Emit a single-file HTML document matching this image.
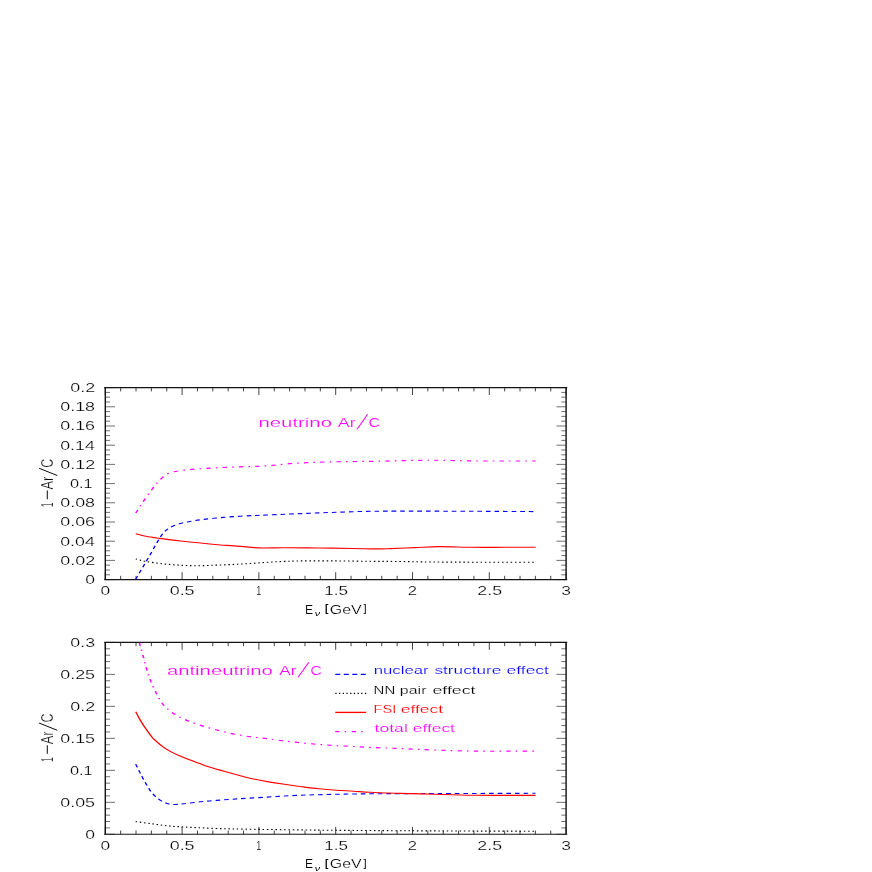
<!DOCTYPE html>
<html><head><meta charset="utf-8"><title>1-Ar/C</title>
<style>
html,body{margin:0;padding:0;background:#fff;}
body{width:872px;height:872px;overflow:hidden;font-family:"Liberation Sans",sans-serif;}
svg{display:block;}
</style></head><body>
<svg width="872" height="872" viewBox="0 0 872 872" font-family="'Liberation Sans', sans-serif" shape-rendering="auto">
<rect width="872" height="872" fill="#fff"/>
<g opacity="0.999">
<defs><clipPath id="c2"><rect x="105.3" y="642.4" width="460.8" height="191.9"/></clipPath></defs>
<path d="M105.3 579.6v-7.4M105.3 387.6v7.4M120.66 579.6v-3.8M120.66 387.6v3.8M136.02 579.6v-3.8M136.02 387.6v3.8M151.38 579.6v-3.8M151.38 387.6v3.8M166.74 579.6v-3.8M166.74 387.6v3.8M182.1 579.6v-7.4M182.1 387.6v7.4M197.46 579.6v-3.8M197.46 387.6v3.8M212.82 579.6v-3.8M212.82 387.6v3.8M228.18 579.6v-3.8M228.18 387.6v3.8M243.54 579.6v-3.8M243.54 387.6v3.8M258.9 579.6v-7.4M258.9 387.6v7.4M274.26 579.6v-3.8M274.26 387.6v3.8M289.62 579.6v-3.8M289.62 387.6v3.8M304.98 579.6v-3.8M304.98 387.6v3.8M320.34 579.6v-3.8M320.34 387.6v3.8M335.7 579.6v-7.4M335.7 387.6v7.4M351.06 579.6v-3.8M351.06 387.6v3.8M366.42 579.6v-3.8M366.42 387.6v3.8M381.78 579.6v-3.8M381.78 387.6v3.8M397.14 579.6v-3.8M397.14 387.6v3.8M412.5 579.6v-7.4M412.5 387.6v7.4M427.86 579.6v-3.8M427.86 387.6v3.8M443.22 579.6v-3.8M443.22 387.6v3.8M458.58 579.6v-3.8M458.58 387.6v3.8M473.94 579.6v-3.8M473.94 387.6v3.8M489.3 579.6v-7.4M489.3 387.6v7.4M504.66 579.6v-3.8M504.66 387.6v3.8M520.02 579.6v-3.8M520.02 387.6v3.8M535.38 579.6v-3.8M535.38 387.6v3.8M550.74 579.6v-3.8M550.74 387.6v3.8M566.1 579.6v-7.4M566.1 387.6v7.4" stroke="#222" stroke-width="0.85" fill="none"/>
<path d="M105.3 579.6h9.7M566.1 579.6h-9.7M105.3 574.8h4.8M566.1 574.8h-4.8M105.3 570h4.8M566.1 570h-4.8M105.3 565.2h4.8M566.1 565.2h-4.8M105.3 560.4h9.7M566.1 560.4h-9.7M105.3 555.6h4.8M566.1 555.6h-4.8M105.3 550.8h4.8M566.1 550.8h-4.8M105.3 546h4.8M566.1 546h-4.8M105.3 541.2h9.7M566.1 541.2h-9.7M105.3 536.4h4.8M566.1 536.4h-4.8M105.3 531.6h4.8M566.1 531.6h-4.8M105.3 526.8h4.8M566.1 526.8h-4.8M105.3 522h9.7M566.1 522h-9.7M105.3 517.2h4.8M566.1 517.2h-4.8M105.3 512.4h4.8M566.1 512.4h-4.8M105.3 507.6h4.8M566.1 507.6h-4.8M105.3 502.8h9.7M566.1 502.8h-9.7M105.3 498h4.8M566.1 498h-4.8M105.3 493.2h4.8M566.1 493.2h-4.8M105.3 488.4h4.8M566.1 488.4h-4.8M105.3 483.6h9.7M566.1 483.6h-9.7M105.3 478.8h4.8M566.1 478.8h-4.8M105.3 474h4.8M566.1 474h-4.8M105.3 469.2h4.8M566.1 469.2h-4.8M105.3 464.4h9.7M566.1 464.4h-9.7M105.3 459.6h4.8M566.1 459.6h-4.8M105.3 454.8h4.8M566.1 454.8h-4.8M105.3 450h4.8M566.1 450h-4.8M105.3 445.2h9.7M566.1 445.2h-9.7M105.3 440.4h4.8M566.1 440.4h-4.8M105.3 435.6h4.8M566.1 435.6h-4.8M105.3 430.8h4.8M566.1 430.8h-4.8M105.3 426h9.7M566.1 426h-9.7M105.3 421.2h4.8M566.1 421.2h-4.8M105.3 416.4h4.8M566.1 416.4h-4.8M105.3 411.6h4.8M566.1 411.6h-4.8M105.3 406.8h9.7M566.1 406.8h-9.7M105.3 402h4.8M566.1 402h-4.8M105.3 397.2h4.8M566.1 397.2h-4.8M105.3 392.4h4.8M566.1 392.4h-4.8M105.3 387.6h9.7M566.1 387.6h-9.7" stroke="#222" stroke-width="0.65" fill="none"/>
<path d="M104.58 387.6H566.83M104.58 579.6H566.83" stroke="#141414" stroke-width="1.1" stroke-linecap="round" fill="none"/>
<path d="M105.3 387.6V579.6M566.1 387.6V579.6" stroke="#141414" stroke-width="1.42" fill="none"/>
<text transform="translate(85.21 584) scale(1.4286 1)" font-size="12.3" fill="#000" stroke="#fff" stroke-width="0.2" paint-order="fill stroke">0</text>
<text transform="translate(60.2 564.8) scale(1.4623 1)" font-size="12.3" fill="#000" stroke="#fff" stroke-width="0.2" paint-order="fill stroke">0.02</text>
<text transform="translate(60.21 545.6) scale(1.4460 1)" font-size="12.3" fill="#000" stroke="#fff" stroke-width="0.2" paint-order="fill stroke">0.04</text>
<text transform="translate(60.2 526.4) scale(1.4573 1)" font-size="12.3" fill="#000" stroke="#fff" stroke-width="0.2" paint-order="fill stroke">0.06</text>
<text transform="translate(60.2 507.2) scale(1.4570 1)" font-size="12.3" fill="#000" stroke="#fff" stroke-width="0.2" paint-order="fill stroke">0.08</text>
<text transform="translate(69.96 488) scale(1.3298 1)" font-size="12.3" fill="#000" stroke="#fff" stroke-width="0.2" paint-order="fill stroke">0.1</text>
<text transform="translate(60.2 468.8) scale(1.4623 1)" font-size="12.3" fill="#000" stroke="#fff" stroke-width="0.2" paint-order="fill stroke">0.12</text>
<text transform="translate(60.21 449.6) scale(1.4460 1)" font-size="12.3" fill="#000" stroke="#fff" stroke-width="0.2" paint-order="fill stroke">0.14</text>
<text transform="translate(60.2 430.4) scale(1.4573 1)" font-size="12.3" fill="#000" stroke="#fff" stroke-width="0.2" paint-order="fill stroke">0.16</text>
<text transform="translate(60.2 411.2) scale(1.4570 1)" font-size="12.3" fill="#000" stroke="#fff" stroke-width="0.2" paint-order="fill stroke">0.18</text>
<text transform="translate(70.3 392) scale(1.4563 1)" font-size="12.3" fill="#000" stroke="#fff" stroke-width="0.2" paint-order="fill stroke">0.2</text>
<text transform="translate(100.47 594.85) scale(1.4116 1)" font-size="12.3" fill="#000" stroke="#fff" stroke-width="0.2" paint-order="fill stroke">0</text>
<text transform="translate(169.7 594.85) scale(1.4533 1)" font-size="12.3" fill="#000" stroke="#fff" stroke-width="0.2" paint-order="fill stroke">0.5</text>
<text transform="translate(256.26 594.85) scale(0.7354 1)" font-size="12.3" fill="#000" stroke="#fff" stroke-width="0.2" paint-order="fill stroke">1</text>
<text transform="translate(324.35 594.85) scale(1.3870 1)" font-size="12.3" fill="#000" stroke="#fff" stroke-width="0.2" paint-order="fill stroke">1.5</text>
<text transform="translate(407.86 594.85) scale(1.3563 1)" font-size="12.3" fill="#000" stroke="#fff" stroke-width="0.2" paint-order="fill stroke">2</text>
<text transform="translate(477.35 594.85) scale(1.4470 1)" font-size="12.3" fill="#000" stroke="#fff" stroke-width="0.2" paint-order="fill stroke">2.5</text>
<text transform="translate(561.28 594.85) scale(1.4233 1)" font-size="12.3" fill="#000" stroke="#fff" stroke-width="0.2" paint-order="fill stroke">3</text>
<text transform="translate(305 613.65) scale(0.9514 1)" font-size="12.8" fill="#000" stroke="#fff" stroke-width="0.2" paint-order="fill stroke">E</text>
<text transform="translate(314.7 615.95) scale(1.4335 1)" font-size="7.4" fill="#000" font-style="italic">&#957;</text>
<text transform="translate(325.03 611.8) scale(1.0002 1)" font-size="10.2" fill="#000" font-weight="bold">[</text>
<text transform="translate(329.8 613.65) scale(1.2444 1)" font-size="12.8" fill="#000" stroke="#fff" stroke-width="0.2" paint-order="fill stroke">GeV</text>
<text transform="translate(363.41 611.8) scale(1.0853 1)" font-size="10.2" fill="#000">]</text>
<text transform="translate(52.7 506.9) rotate(-90) scale(0.6411 1.4)" font-size="12.3" fill="#000" stroke="#fff" stroke-width="0.2" paint-order="fill stroke">1</text>
<text transform="translate(52.7 500.07) rotate(-90) scale(1.4391 1.4)" font-size="12.3" fill="#000" stroke="#fff" stroke-width="0.12" paint-order="fill stroke">&#8722;</text>
<text transform="translate(52.7 489.53) rotate(-90) scale(1.0520 1.4)" font-size="12.3" fill="#000" stroke="#fff" stroke-width="0.2" paint-order="fill stroke">Ar</text>
<text transform="translate(56.8 476.1) rotate(-90) translate(0.06 -0.24) skewX(-14.03) scale(1 1.7906)" font-size="13.84" fill="#000">/</text>
<text transform="translate(52.7 467.83) rotate(-90) scale(1.0142 1.4)" font-size="12.3" fill="#000" stroke="#fff" stroke-width="0.2" paint-order="fill stroke">C</text>
<g>
<path d="M104.38 579.4C104.93 578.15 106.6 574.22 107.65 571.9C108.71 569.58 109.69 567.7 110.69 565.5C111.7 563.3 112.69 560.95 113.69 558.7C114.69 556.45 115.74 554.18 116.69 552C117.64 549.82 118.53 547.55 119.38 545.6C120.24 543.65 121.03 542.02 121.85 540.3C122.67 538.58 123.49 536.78 124.31 535.3C125.13 533.82 125.9 532.52 126.77 531.4C127.64 530.28 128.45 529.52 129.54 528.6C130.63 527.68 131.82 526.73 133.31 525.9C134.79 525.07 136.47 524.3 138.46 523.6" fill="none" stroke="#0000ff" stroke-width="1.1" transform="scale(1.3 1)" stroke-dasharray="3.565 3.069"/>
<path d="M138.46 523.6C140.45 522.9 142.33 522.38 145.23 521.7C148.13 521.02 151.44 520.22 155.85 519.5C160.26 518.78 166.85 517.95 171.69 517.4C176.54 516.85 180.85 516.52 184.92 516.2C189 515.88 192.72 515.7 196.15 515.5C199.59 515.3 201.77 515.2 205.54 515C209.31 514.8 214.36 514.53 218.77 514.3C223.18 514.07 227.59 513.83 232 513.6C236.41 513.37 240.82 513.12 245.23 512.9C249.64 512.68 254.05 512.5 258.46 512.3C262.87 512.1 267.28 511.87 271.69 511.7C276.1 511.53 279.41 511.4 284.92 511.3C290.44 511.2 294.31 511.12 304.77 511.1C315.23 511.08 334.38 511.15 347.69 511.2C361 511.25 373.91 511.33 384.62 511.4C395.32 511.47 407.37 511.57 411.92 511.6" fill="none" stroke="#0000ff" stroke-width="1.1" transform="scale(1.3 1)" stroke-dasharray="3.538 3.046" stroke-dashoffset="0.908"/>
</g>
<g>
<path d="M104.46 559C105.74 559.4 108.67 560.6 112.15 561.4C115.64 562.2 120.97 563.17 125.38 563.8C129.79 564.43 134.21 564.88 138.62 565.2C143.03 565.52 147.44 565.7 151.85 565.7" fill="none" stroke="#000000" stroke-width="1.1" transform="scale(1.3 1)" stroke-dasharray="1.141 2.115"/>
<path d="M151.85 565.7C156.26 565.7 160.67 565.4 165.08 565.2C169.49 565 173.9 564.77 178.31 564.5C182.72 564.23 187 563.97 191.54 563.6C196.08 563.23 201 562.67 205.54 562.3C210.08 561.93 214.36 561.63 218.77 561.4C223.18 561.17 225.38 560.98 232 560.9C238.62 560.82 249.64 560.83 258.46 560.9C267.28 560.97 276.72 561.2 284.92 561.3C293.13 561.4 299.88 561.38 307.69 561.5C315.5 561.62 321.51 561.88 331.77 562C342.03 562.12 355.87 562.17 369.23 562.2C382.59 562.23 404.81 562.2 411.92 562.2" fill="none" stroke="#000000" stroke-width="1.1" transform="scale(1.3 1)" stroke-dasharray="1.154 2.138" stroke-dashoffset="2.496"/>
</g>
<g>
<path d="M104.46 533.7C105.74 534.13 109.1 535.52 112.15 536.3C115.21 537.08 118.36 537.62 122.77 538.4C127.18 539.18 133.1 540.2 138.62 541C144.13 541.8 149.9 542.47 155.85 543.2C161.79 543.93 169.03 544.83 174.31 545.4C179.59 545.97 183.44 546.18 187.54 546.6C191.64 547.02 193.72 547.7 198.92 547.9C204.13 548.1 211.05 547.78 218.77 547.8C226.49 547.82 236.41 547.88 245.23 548C254.05 548.12 264.41 548.35 271.69 548.5C278.97 548.65 284.21 548.88 288.92 548.9C293.64 548.92 294.97 548.82 300 548.6C305.03 548.38 312.73 547.93 319.08 547.6C325.42 547.27 330.67 546.65 338.08 546.6C345.49 546.55 355.14 547.18 363.54 547.3C371.94 547.42 380.37 547.3 388.46 547.3C396.55 547.3 408.14 547.3 412.08 547.3" fill="none" stroke="#ff0000" stroke-width="1.1" transform="scale(1.3 1)"/>
</g>
<g>
<path d="M104.46 513.1C105.31 511.38 107.59 506.53 109.54 502.8C111.49 499.07 114.28 494 116.15 490.7C118.03 487.4 119.35 485.15 120.77 483C122.19 480.85 123.37 479.32 124.69 477.8C126.01 476.28 127.26 474.9 128.69 473.9C130.13 472.9 130.55 472.52 133.31 471.8C136.06 471.08 141.04 470.17 145.23 469.6" fill="none" stroke="#ff00ff" stroke-width="1.2" transform="scale(1.3 1)" stroke-dasharray="3.493 4.048 1.27 4.128"/>
<path d="M145.23 469.6C149.42 469.03 154.05 468.75 158.46 468.4C162.87 468.05 167.28 467.77 171.69 467.5C176.1 467.23 180.59 466.98 184.92 466.8C189.26 466.62 193.59 466.65 197.69 466.4C201.79 466.15 205.36 465.75 209.54 465.3C213.72 464.85 218.36 464.13 222.77 463.7C227.18 463.27 231.59 462.98 236 462.7C240.41 462.42 244.82 462.17 249.23 462C253.64 461.83 258.05 461.78 262.46 461.7C266.87 461.62 271.28 461.57 275.69 461.5C280.1 461.43 284.08 461.42 288.92 461.3C293.77 461.18 298.95 460.97 304.77 460.8C310.59 460.63 318.03 460.38 323.85 460.3C329.67 460.22 333.08 460.19 339.69 460.3C346.31 460.41 355.41 460.83 363.54 460.95C371.67 461.07 380.4 460.99 388.46 461C396.53 461.01 408.01 461 411.92 461" fill="none" stroke="#ff00ff" stroke-width="1.2" transform="scale(1.3 1)" stroke-dasharray="3.385 3.923 1.231 4" stroke-dashoffset="11.495"/>
</g>
<text transform="translate(258.45 426.5) scale(1.5088 1)" font-size="13.5" fill="#ff00ff" stroke="#fff" stroke-width="0.16" paint-order="fill stroke">neutrino</text>
<text transform="translate(337.77 426.5) scale(1.3111 1)" font-size="13.6" fill="#ff00ff" stroke="#fff" stroke-width="0.16" paint-order="fill stroke">Ar</text>
<text transform="translate(356.6 429.2) skewX(-26.53) scale(1 1.2886)" font-size="15.85" fill="#ff00ff">/</text>
<text transform="translate(368.58 426.5) scale(1.1843 1)" font-size="13.6" fill="#ff00ff" stroke="#fff" stroke-width="0.16" paint-order="fill stroke">C</text>
<path d="M105.3 834.3v-7.4M105.3 642.4v7.4M120.66 834.3v-3.8M120.66 642.4v3.8M136.02 834.3v-3.8M136.02 642.4v3.8M151.38 834.3v-3.8M151.38 642.4v3.8M166.74 834.3v-3.8M166.74 642.4v3.8M182.1 834.3v-7.4M182.1 642.4v7.4M197.46 834.3v-3.8M197.46 642.4v3.8M212.82 834.3v-3.8M212.82 642.4v3.8M228.18 834.3v-3.8M228.18 642.4v3.8M243.54 834.3v-3.8M243.54 642.4v3.8M258.9 834.3v-7.4M258.9 642.4v7.4M274.26 834.3v-3.8M274.26 642.4v3.8M289.62 834.3v-3.8M289.62 642.4v3.8M304.98 834.3v-3.8M304.98 642.4v3.8M320.34 834.3v-3.8M320.34 642.4v3.8M335.7 834.3v-7.4M335.7 642.4v7.4M351.06 834.3v-3.8M351.06 642.4v3.8M366.42 834.3v-3.8M366.42 642.4v3.8M381.78 834.3v-3.8M381.78 642.4v3.8M397.14 834.3v-3.8M397.14 642.4v3.8M412.5 834.3v-7.4M412.5 642.4v7.4M427.86 834.3v-3.8M427.86 642.4v3.8M443.22 834.3v-3.8M443.22 642.4v3.8M458.58 834.3v-3.8M458.58 642.4v3.8M473.94 834.3v-3.8M473.94 642.4v3.8M489.3 834.3v-7.4M489.3 642.4v7.4M504.66 834.3v-3.8M504.66 642.4v3.8M520.02 834.3v-3.8M520.02 642.4v3.8M535.38 834.3v-3.8M535.38 642.4v3.8M550.74 834.3v-3.8M550.74 642.4v3.8M566.1 834.3v-7.4M566.1 642.4v7.4" stroke="#222" stroke-width="0.85" fill="none"/>
<path d="M105.3 834.3h9.7M566.1 834.3h-9.7M105.3 827.9h4.8M566.1 827.9h-4.8M105.3 821.51h4.8M566.1 821.51h-4.8M105.3 815.11h4.8M566.1 815.11h-4.8M105.3 808.71h4.8M566.1 808.71h-4.8M105.3 802.32h9.7M566.1 802.32h-9.7M105.3 795.92h4.8M566.1 795.92h-4.8M105.3 789.52h4.8M566.1 789.52h-4.8M105.3 783.13h4.8M566.1 783.13h-4.8M105.3 776.73h4.8M566.1 776.73h-4.8M105.3 770.33h9.7M566.1 770.33h-9.7M105.3 763.94h4.8M566.1 763.94h-4.8M105.3 757.54h4.8M566.1 757.54h-4.8M105.3 751.14h4.8M566.1 751.14h-4.8M105.3 744.75h4.8M566.1 744.75h-4.8M105.3 738.35h9.7M566.1 738.35h-9.7M105.3 731.95h4.8M566.1 731.95h-4.8M105.3 725.56h4.8M566.1 725.56h-4.8M105.3 719.16h4.8M566.1 719.16h-4.8M105.3 712.76h4.8M566.1 712.76h-4.8M105.3 706.37h9.7M566.1 706.37h-9.7M105.3 699.97h4.8M566.1 699.97h-4.8M105.3 693.57h4.8M566.1 693.57h-4.8M105.3 687.18h4.8M566.1 687.18h-4.8M105.3 680.78h4.8M566.1 680.78h-4.8M105.3 674.38h9.7M566.1 674.38h-9.7M105.3 667.99h4.8M566.1 667.99h-4.8M105.3 661.59h4.8M566.1 661.59h-4.8M105.3 655.19h4.8M566.1 655.19h-4.8M105.3 648.8h4.8M566.1 648.8h-4.8M105.3 642.4h9.7M566.1 642.4h-9.7" stroke="#222" stroke-width="0.65" fill="none"/>
<path d="M104.58 642.4H566.83M104.58 834.3H566.83" stroke="#141414" stroke-width="1.1" stroke-linecap="round" fill="none"/>
<path d="M105.3 642.4V834.3M566.1 642.4V834.3" stroke="#141414" stroke-width="1.42" fill="none"/>
<text transform="translate(85.21 838.7) scale(1.4286 1)" font-size="12.3" fill="#000" stroke="#fff" stroke-width="0.2" paint-order="fill stroke">0</text>
<text transform="translate(60.2 806.72) scale(1.4558 1)" font-size="12.3" fill="#000" stroke="#fff" stroke-width="0.2" paint-order="fill stroke">0.05</text>
<text transform="translate(69.96 774.73) scale(1.3298 1)" font-size="12.3" fill="#000" stroke="#fff" stroke-width="0.2" paint-order="fill stroke">0.1</text>
<text transform="translate(60.2 742.75) scale(1.4558 1)" font-size="12.3" fill="#000" stroke="#fff" stroke-width="0.2" paint-order="fill stroke">0.15</text>
<text transform="translate(70.3 710.77) scale(1.4563 1)" font-size="12.3" fill="#000" stroke="#fff" stroke-width="0.2" paint-order="fill stroke">0.2</text>
<text transform="translate(60.2 678.78) scale(1.4558 1)" font-size="12.3" fill="#000" stroke="#fff" stroke-width="0.2" paint-order="fill stroke">0.25</text>
<text transform="translate(70.3 646.8) scale(1.4492 1)" font-size="12.3" fill="#000" stroke="#fff" stroke-width="0.2" paint-order="fill stroke">0.3</text>
<text transform="translate(100.47 849.55) scale(1.4116 1)" font-size="12.3" fill="#000" stroke="#fff" stroke-width="0.2" paint-order="fill stroke">0</text>
<text transform="translate(169.7 849.55) scale(1.4533 1)" font-size="12.3" fill="#000" stroke="#fff" stroke-width="0.2" paint-order="fill stroke">0.5</text>
<text transform="translate(256.26 849.55) scale(0.7354 1)" font-size="12.3" fill="#000" stroke="#fff" stroke-width="0.2" paint-order="fill stroke">1</text>
<text transform="translate(324.35 849.55) scale(1.3870 1)" font-size="12.3" fill="#000" stroke="#fff" stroke-width="0.2" paint-order="fill stroke">1.5</text>
<text transform="translate(407.86 849.55) scale(1.3563 1)" font-size="12.3" fill="#000" stroke="#fff" stroke-width="0.2" paint-order="fill stroke">2</text>
<text transform="translate(477.35 849.55) scale(1.4470 1)" font-size="12.3" fill="#000" stroke="#fff" stroke-width="0.2" paint-order="fill stroke">2.5</text>
<text transform="translate(561.28 849.55) scale(1.4233 1)" font-size="12.3" fill="#000" stroke="#fff" stroke-width="0.2" paint-order="fill stroke">3</text>
<text transform="translate(305 868.35) scale(0.9514 1)" font-size="12.8" fill="#000" stroke="#fff" stroke-width="0.2" paint-order="fill stroke">E</text>
<text transform="translate(314.7 870.65) scale(1.4335 1)" font-size="7.4" fill="#000" font-style="italic">&#957;</text>
<text transform="translate(325.03 866.5) scale(1.0002 1)" font-size="10.2" fill="#000" font-weight="bold">[</text>
<text transform="translate(329.8 868.35) scale(1.2444 1)" font-size="12.8" fill="#000" stroke="#fff" stroke-width="0.2" paint-order="fill stroke">GeV</text>
<text transform="translate(363.41 866.5) scale(1.0853 1)" font-size="10.2" fill="#000">]</text>
<text transform="translate(52.7 761.65) rotate(-90) scale(0.6411 1.4)" font-size="12.3" fill="#000" stroke="#fff" stroke-width="0.2" paint-order="fill stroke">1</text>
<text transform="translate(52.7 754.82) rotate(-90) scale(1.4391 1.4)" font-size="12.3" fill="#000" stroke="#fff" stroke-width="0.12" paint-order="fill stroke">&#8722;</text>
<text transform="translate(52.7 744.28) rotate(-90) scale(1.0520 1.4)" font-size="12.3" fill="#000" stroke="#fff" stroke-width="0.2" paint-order="fill stroke">Ar</text>
<text transform="translate(56.8 730.85) rotate(-90) translate(0.06 -0.24) skewX(-14.03) scale(1 1.7906)" font-size="13.84" fill="#000">/</text>
<text transform="translate(52.7 722.58) rotate(-90) scale(1.0142 1.4)" font-size="12.3" fill="#000" stroke="#fff" stroke-width="0.2" paint-order="fill stroke">C</text>
<g>
<path d="M104.38 764.1C104.95 765.57 106.49 769.7 107.77 772.9C109.05 776.1 110.54 779.95 112.08 783.3C113.62 786.65 115.15 790.18 117 793C118.85 795.82 121.09 798.42 123.15 800.2C125.22 801.98 127.42 802.98 129.38 803.7C131.35 804.42 132.87 804.5 134.92 804.5C136.97 804.5 138.5 804.15 141.69 803.7" fill="none" stroke="#0000ff" stroke-width="1.1" transform="scale(1.3 1)" stroke-dasharray="3.509 3.021"/>
<path d="M141.69 803.7C144.88 803.25 149.96 802.35 154.08 801.8C158.19 801.25 162.27 800.83 166.38 800.4C170.5 799.97 174.65 799.57 178.77 799.2C182.88 798.83 186.62 798.55 191.08 798.2C195.54 797.85 200.92 797.47 205.54 797.1C210.15 796.73 214.36 796.32 218.77 796C223.18 795.68 227.59 795.42 232 795.2C236.41 794.98 240.82 794.85 245.23 794.7C249.64 794.55 254.05 794.42 258.46 794.3C262.87 794.18 267.28 794.08 271.69 794C276.1 793.92 278.92 793.87 284.92 793.8C290.92 793.73 297.23 793.65 307.69 793.6C318.15 793.55 330.32 793.55 347.69 793.5C365.06 793.45 401.22 793.33 411.92 793.3" fill="none" stroke="#0000ff" stroke-width="1.1" transform="scale(1.3 1)" stroke-dasharray="3.538 3.046" stroke-dashoffset="1.958"/>
</g>
<g>
<path d="M104.38 821.6C106.49 821.97 112.83 823.08 117 823.8C121.17 824.52 125.27 825.37 129.38 825.9C133.5 826.43 137.58 826.68 141.69 827C145.81 827.32 149.96 827.55 154.08 827.8" fill="none" stroke="#000000" stroke-width="1.1" transform="scale(1.3 1)" stroke-dasharray="1.141 2.114"/>
<path d="M154.08 827.8C158.19 828.05 162.27 828.32 166.38 828.5C170.5 828.68 173.17 828.75 178.77 828.9C184.37 829.05 191.33 829.23 200 829.4C208.67 829.57 221.03 829.75 230.77 829.9C240.51 830.05 244.1 830.15 258.46 830.3C272.82 830.45 298.46 830.67 316.92 830.8C335.38 830.93 353.4 831.03 369.23 831.1C385.06 831.17 404.81 831.18 411.92 831.2" fill="none" stroke="#000000" stroke-width="1.1" transform="scale(1.3 1)" stroke-dasharray="1.154 2.138" stroke-dashoffset="1.334"/>
</g>
<g>
<path d="M104.46 711.7C104.86 712.7 105.78 715.27 106.85 717.7C107.91 720.13 109.29 723.28 110.85 726.3C112.4 729.32 114.83 733.57 116.15 735.8C117.47 738.03 117.23 737.85 118.77 739.7C120.31 741.55 123.18 744.83 125.38 746.9C127.59 748.97 129.79 750.57 132 752.1C134.21 753.63 136.41 754.87 138.62 756.1C140.82 757.33 141.92 757.87 145.23 759.5C148.54 761.13 154.05 763.98 158.46 765.9C162.87 767.82 167.28 769.37 171.69 771C176.1 772.63 180.85 774.32 184.92 775.7C189 777.08 192.72 778.32 196.15 779.3C199.59 780.28 201.77 780.77 205.54 781.6C209.31 782.43 214.36 783.45 218.77 784.3C223.18 785.15 227.59 785.95 232 786.7C236.41 787.45 240.82 788.22 245.23 788.8C249.64 789.38 254.05 789.8 258.46 790.2C262.87 790.6 267.28 790.85 271.69 791.2C276.1 791.55 279.56 791.97 284.92 792.3C290.28 792.63 297.36 792.93 303.85 793.2C310.33 793.47 316.54 793.65 323.85 793.9C331.15 794.15 341.08 794.47 347.69 794.7C354.31 794.93 356.74 795.18 363.54 795.3C370.33 795.42 380.4 795.38 388.46 795.4C396.53 795.42 408.01 795.4 411.92 795.4" fill="none" stroke="#ff0000" stroke-width="1.1" transform="scale(1.3 1)"/>
</g>
<g clip-path="url(#c2)">
<path d="M106.31 636C106.45 637.07 106.62 639.53 107.15 642.4C107.69 645.27 108.71 649.25 109.54 653.2C110.37 657.15 111.28 662.08 112.15 666.1C113.03 670.12 113.67 673.43 114.77 677.3C115.87 681.17 117.22 685.15 118.77 689.3C120.32 693.45 122.09 698.62 124.08 702.2C126.06 705.78 128.49 708.42 130.69 710.8C132.9 713.18 134.88 714.78 137.31 716.5C139.73 718.22 142.37 719.62 145.23 721.1C148.09 722.58 151.15 724.02 154.46 725.4C157.77 726.78 161.32 728.1 165.08 729.4C168.83 730.7 173.26 732.13 177 733.2C180.74 734.27 184.13 735.08 187.54 735.8C190.95 736.52 194.46 737.03 197.46 737.5C200.46 737.97 201.99 738.02 205.54 738.6C209.09 739.18 214.36 740.28 218.77 741C223.18 741.72 227.59 742.33 232 742.9C236.41 743.47 240.82 743.95 245.23 744.4C249.64 744.85 254.05 745.25 258.46 745.6C262.87 745.95 267.28 746.2 271.69 746.5C276.1 746.8 279.41 747.08 284.92 747.4C290.44 747.72 298.28 748.05 304.77 748.4C311.26 748.75 316.69 749.13 323.85 749.5C331 749.87 339.76 750.32 347.69 750.6C355.63 750.88 364.03 751.1 371.46 751.2C378.9 751.3 385.56 751.2 392.31 751.2C399.05 751.2 408.65 751.2 411.92 751.2" fill="none" stroke="#ff00ff" stroke-width="1.2" transform="scale(1.3 1)" stroke-dasharray="3.385 3.923 1.231 4" stroke-dashoffset="5.863"/>
</g>
<text transform="translate(166.94 674.8) scale(1.5026 1)" font-size="13.5" fill="#ff00ff" stroke="#fff" stroke-width="0.16" paint-order="fill stroke">antineutrino</text>
<text transform="translate(279.27 674.8) scale(1.2586 1)" font-size="13.6" fill="#ff00ff" stroke="#fff" stroke-width="0.16" paint-order="fill stroke">Ar</text>
<text transform="translate(297.6 677.3) skewX(-27.06) scale(1 1.2806)" font-size="15.95" fill="#ff00ff">/</text>
<text transform="translate(310.27 674.8) scale(1.1959 1)" font-size="13.6" fill="#ff00ff" stroke="#fff" stroke-width="0.16" paint-order="fill stroke">C</text>
<path d="M335.3 674.3H366.2" stroke="#0000ff" stroke-width="1.15" stroke-dasharray="5 3.5" fill="none"/>
<text transform="translate(373.69 674.4) scale(1.4331 1)" font-size="11.7" fill="#0000ff" stroke="#fff" stroke-width="0.16" paint-order="fill stroke">nuclear</text>
<text transform="translate(434.42 674.4) scale(1.4731 1)" font-size="11.7" fill="#0000ff" stroke="#fff" stroke-width="0.16" paint-order="fill stroke">structure</text>
<text transform="translate(506.56 674.4) scale(1.4911 1)" font-size="11.7" fill="#0000ff" stroke="#fff" stroke-width="0.16" paint-order="fill stroke">effect</text>
<path d="M335.3 693.3H366.2" stroke="#000000" stroke-width="1.15" stroke-dasharray="1.3 2.4" fill="none"/>
<text transform="translate(373.57 693.8) scale(1.2813 1)" font-size="11.7" fill="#000" stroke="#fff" stroke-width="0.2" paint-order="fill stroke">NN</text>
<text transform="translate(399.87 693.8) scale(1.3631 1)" font-size="11.7" fill="#000" stroke="#fff" stroke-width="0.2" paint-order="fill stroke">pair</text>
<text transform="translate(432.45 693.8) scale(1.5161 1)" font-size="11.7" fill="#000" stroke="#fff" stroke-width="0.2" paint-order="fill stroke">effect</text>
<path d="M335.3 712.4H366.2" stroke="#ff0000" stroke-width="1.35" fill="none"/>
<text transform="translate(373.6 712.8) scale(1.2499 1)" font-size="11.7" fill="#ff0000" stroke="#fff" stroke-width="0.16" paint-order="fill stroke">FSI</text>
<text transform="translate(400.76 712.8) scale(1.4947 1)" font-size="11.7" fill="#ff0000" stroke="#fff" stroke-width="0.16" paint-order="fill stroke">effect</text>
<path d="M335.3 731.6H366.2" stroke="#ff00ff" stroke-width="1.2" stroke-dasharray="4.3 5.1 1.4 5.7" fill="none"/>
<text transform="translate(374.53 732.3) scale(1.5079 1)" font-size="11.7" fill="#ff00ff" stroke="#fff" stroke-width="0.16" paint-order="fill stroke">total</text>
<text transform="translate(412.86 732.3) scale(1.4804 1)" font-size="11.7" fill="#ff00ff" stroke="#fff" stroke-width="0.16" paint-order="fill stroke">effect</text>
</g>
</svg>
</body></html>
